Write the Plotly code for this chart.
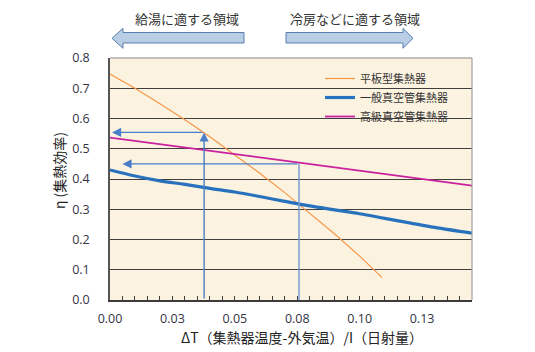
import plotly.graph_objects as go

# ---- data ----
flat_x = [0.0, 0.01, 0.02, 0.03, 0.04, 0.05, 0.06, 0.07, 0.08, 0.09, 0.10, 0.109]
flat_y = [0.747, 0.700, 0.649, 0.596, 0.540, 0.481, 0.419, 0.355, 0.288, 0.218, 0.145, 0.074]

std_x = [0.0, 0.01, 0.02, 0.03, 0.04, 0.05, 0.06, 0.07, 0.08, 0.09, 0.10, 0.11, 0.12, 0.13, 0.145]
std_y = [0.430, 0.410, 0.394, 0.382, 0.369, 0.357, 0.342, 0.326, 0.311, 0.298, 0.285, 0.270, 0.255, 0.240, 0.221]

adv_x = [0.0, 0.145]
adv_y = [0.537, 0.378]

x_tickvals = [0.0, 0.025, 0.05, 0.075, 0.10, 0.125]
x_ticktext = ["0.00", "0.03", "0.05", "0.08", "0.10", "0.13"]
y_tickvals = [0.0, 0.1, 0.2, 0.3, 0.4, 0.5, 0.6, 0.7, 0.8]
y_ticktext = ["0.0", "0.1", "0.2", "0.3", "0.4", "0.5", "0.6", "0.7", "0.8"]

names = ["平板型集熱器", "一般真空管集熱器", "高級真空管集熱器"]
x_title = "ΔT（集熱器温度-外気温）/I（日射量）"
y_title = "η (集熱効率)"
left_label = "給湯に適する領域"
right_label = "冷房などに適する領域"

# reading points (arrows)
read1_x, read1_y = 0.0377, 0.554
read2_x, read2_y = 0.0757, 0.450

FONT = "Noto Sans CJK JP"
NUMFONT = "Open Sans"
W, H = 535, 352
L, R, T, B = 110, 472, 58, 300

def px(X):
    return (X - L) / (R - L)

def py(Y):
    return (B - Y) / (B - T)

fig = go.Figure()
fig.add_trace(go.Scatter(x=flat_x, y=flat_y, mode="lines", name=names[0],
                         line=dict(color="#F79646", width=1.2)))
fig.add_trace(go.Scatter(x=std_x, y=std_y, mode="lines", name=names[1],
                         line=dict(color="#2872BD", width=3.2, shape="spline")))
fig.add_trace(go.Scatter(x=adv_x, y=adv_y, mode="lines", name=names[2],
                         line=dict(color="#C8209E", width=1.8)))

arrow_col = "#4A7EC8"
annots = []
annots.append(dict(x=read1_x, y=read1_y, ax=read1_x, ay=0, xref="x", yref="y",
                   axref="x", ayref="y", text="", showarrow=True, arrowhead=2,
                   arrowsize=1.3, arrowwidth=1.4, arrowcolor=arrow_col, standoff=0))
annots.append(dict(x=0.0008, y=read1_y, ax=read1_x, ay=read1_y, xref="x", yref="y",
                   axref="x", ayref="y", text="", showarrow=True, arrowhead=2,
                   arrowsize=1.3, arrowwidth=1.4, arrowcolor=arrow_col, standoff=0))
annots.append(dict(x=0.005, y=read2_y, ax=read2_x, ay=read2_y, xref="x", yref="y",
                   axref="x", ayref="y", text="", showarrow=True, arrowhead=2,
                   arrowsize=1.3, arrowwidth=1.4, arrowcolor=arrow_col, standoff=0))
annots.append(dict(x=px(187), y=py(19), xref="paper", yref="paper", text=left_label,
                   xanchor="center", yanchor="middle", showarrow=False,
                   font=dict(family=FONT, size=13, color="#333333")))
annots.append(dict(x=px(355), y=py(19), xref="paper", yref="paper", text=right_label,
                   xanchor="center", yanchor="middle", showarrow=False,
                   font=dict(family=FONT, size=13, color="#333333")))
# axis titles
annots.append(dict(x=px(302), y=py(337), xref="paper", yref="paper", text=x_title,
                   xanchor="center", yanchor="middle", showarrow=False,
                   font=dict(family=FONT, size=14, color="#222222")))
annots.append(dict(x=px(59), y=py(171), xref="paper", yref="paper", text=y_title,
                   xanchor="center", yanchor="middle", showarrow=False, textangle=-90,
                   font=dict(family=FONT, size=14, color="#222222")))

shapes = []
shapes.append(dict(type="line", xref="x", yref="y", x0=read2_x, x1=read2_x, y0=-0.006,
                   y1=read2_y, line=dict(color="#6F98D2", width=1.4)))

def path(points):
    return "M " + " L ".join(f"{px(a):.5f},{py(b):.5f}" for a, b in points) + " Z"

left_arrow = [(112, 38.3), (123, 28.3), (123, 32.5), (244, 32.5), (244, 43), (123, 43), (123, 48.3)]
right_arrow = [(286, 32.5), (403, 32.5), (403, 28.3), (413, 38.3), (403, 48.3), (403, 43), (286, 43)]
for pts in (left_arrow, right_arrow):
    shapes.append(dict(type="path", xref="paper", yref="paper", path=path(pts),
                       fillcolor="#B9CDE5", line=dict(color="#5A7FAE", width=1)))
shapes.append(dict(type="line", xref="paper", yref="paper", x0=1, x1=1, y0=0, y1=1,
                   line=dict(color="#A0A0A0", width=1.2)))
shapes.append(dict(type="line", xref="paper", yref="paper", x0=0, x1=1, y0=1, y1=1,
                   line=dict(color="#888888", width=1.2)))

fig.update_layout(
    width=W, height=H,
    margin=dict(l=L, r=W - R, t=T, b=H - B),
    paper_bgcolor="white",
    plot_bgcolor="#FCF2E0",
    font=dict(family=FONT, size=12, color="#333333"),
    showlegend=True,
    legend=dict(x=px(320), y=py(64), xanchor="left", yanchor="top",
                bgcolor="rgba(0,0,0,0)", font=dict(family=FONT, size=11, color="#333333"),
                itemwidth=30, tracegroupgap=0),
    annotations=annots,
    shapes=shapes,
)
fig.update_xaxes(
    range=[0, 0.145], tickmode="array", tickvals=x_tickvals, ticktext=x_ticktext,
    ticks="inside", ticklen=4, tickcolor="#404040", tickwidth=1,
    minor=dict(tick0=0, dtick=0.005, ticks="inside", ticklen=4, tickcolor="#404040", tickwidth=1),
    showgrid=False, zeroline=False,
    showline=True, linecolor="#3A3A3A", linewidth=1.5, mirror=False,
    tickfont=dict(family=NUMFONT, size=12.5, color="#333344"),
    ticklabelstandoff=6,
)
fig.update_yaxes(
    range=[0, 0.8], tickmode="array", tickvals=y_tickvals, ticktext=y_ticktext,
    ticks="", showgrid=True, gridcolor="#3F3F3F", gridwidth=1.3, zeroline=False,
    showline=True, linecolor="#555555", linewidth=1.5, mirror=False,
    tickfont=dict(family=NUMFONT, size=12.5, color="#333344"),
    ticklabelstandoff=16,
)

fig.write_html("out.html")
